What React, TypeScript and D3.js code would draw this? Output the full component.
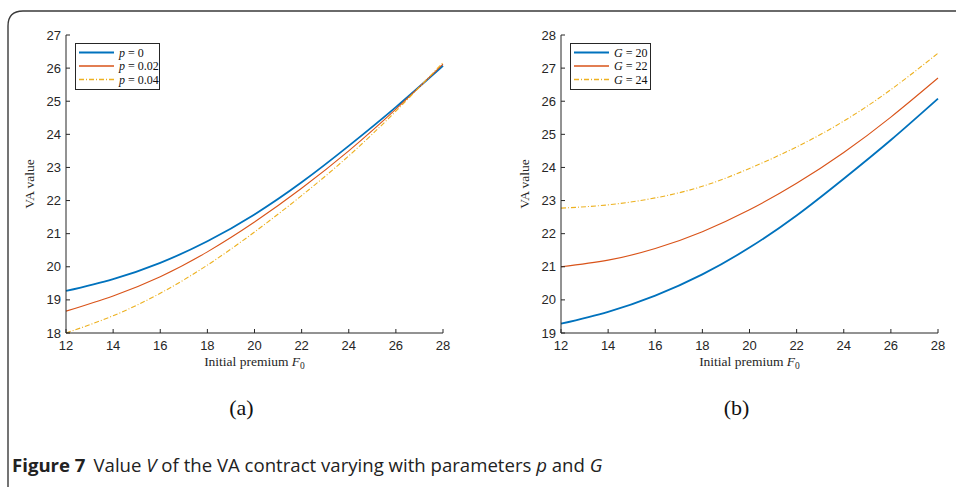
import React from 'react';
import * as d3 from 'd3';

const premiums = [12, 14, 16, 18, 20, 22, 24, 26, 28];

// panel (a): varying p
const pLabels = ['0', '0.02', '0.04'];
const pZero = [19.27, 19.63, 20.12, 20.77, 21.58, 22.55, 23.65, 24.82, 26.07];
const pTwo = [18.66, 19.12, 19.7, 20.45, 21.35, 22.37, 23.5, 24.76, 26.12];
const pFour = [18.0, 18.52, 19.2, 20.05, 21.05, 22.15, 23.35, 24.7, 26.17];

// panel (b): varying G
const gLabels = ['20', '22', '24'];
const gTwenty = [19.28, 19.64, 20.13, 20.77, 21.58, 22.55, 23.66, 24.83, 26.08];
const gTwentyTwo = [21.0, 21.2, 21.55, 22.06, 22.72, 23.52, 24.45, 25.52, 26.7];
const gTwentyFour = [22.77, 22.87, 23.08, 23.43, 23.97, 24.62, 25.4, 26.35, 27.45];

const xTicks = [12, 14, 16, 18, 20, 22, 24, 26, 28];
const yTicksA = [18, 19, 20, 21, 22, 23, 24, 25, 26, 27];
const yTicksB = [19, 20, 21, 22, 23, 24, 25, 26, 27, 28];

const colors = ['#0072BD', '#D95319', '#EDB120'];
const widths = [1.8, 1.1, 1.1];
const dashes = [null, null, '5,2,1,2'];

const axisColor = '#262626';
const serif = '"Liberation Serif", "DejaVu Serif", serif';
const sans = '"Liberation Sans", Arial, sans-serif';

type PanelProps = {
  left: number;
  series: number[][];
  yDomain: [number, number];
  yTicks: number[];
  legendSym: string;
  legendVals: string[];
  legendX: number;
  legendW: number;
  tag: string;
};

function Panel(props: PanelProps) {
  const { left, series, yDomain, yTicks, legendSym, legendVals, legendX, legendW, tag } = props;
  const x = d3.scaleLinear().domain([12, 28]).range([left, left + 377]);
  const y = d3.scaleLinear().domain(yDomain).range([333, 35]);
  const line = d3
    .line<number>()
    .curve(d3.curveNatural)
    .x((d, i) => x(premiums[i]))
    .y(d => y(d));

  const midX = (x(12) + x(28)) / 2;

  return (
    <g>
      {series.map((s, i) => (
        <path
          key={i}
          d={line(s) || ''}
          fill="none"
          stroke={colors[i]}
          strokeWidth={widths[i]}
          strokeDasharray={dashes[i] || undefined}
        />
      ))}

      {/* axes */}
      <line x1={x(12)} x2={x(28)} y1={333} y2={333} stroke={axisColor} strokeWidth={1} />
      <line x1={x(12)} x2={x(12)} y1={35} y2={333} stroke={axisColor} strokeWidth={1} />
      {xTicks.map(t => (
        <g key={'x' + t}>
          <line x1={x(t)} x2={x(t)} y1={333} y2={329} stroke={axisColor} />
          <text x={x(t)} y={350} textAnchor="middle" fontFamily={sans} fontSize={13} fill={axisColor}>
            {t}
          </text>
        </g>
      ))}
      {yTicks.map(t => (
        <g key={'y' + t}>
          <line x1={x(12)} x2={x(12) + 4} y1={y(t)} y2={y(t)} stroke={axisColor} />
          <text x={x(12) - 5} y={y(t) + 4.5} textAnchor="end" fontFamily={sans} fontSize={13} fill={axisColor}>
            {t}
          </text>
        </g>
      ))}

      <text x={midX} y={366} textAnchor="middle" fontFamily={serif} fontSize={13.5} fill={axisColor}>
        Initial premium <tspan fontStyle="italic">F</tspan>
        <tspan fontSize={9.5} dy={3}>0</tspan>
      </text>
      <text
        transform={`translate(${left - 32},${184}) rotate(-90)`}
        textAnchor="middle"
        fontFamily={serif}
        fontSize={13.5}
        fill={axisColor}
      >
        VA value
      </text>

      {/* legend */}
      <rect x={legendX + 0.5} y={43.5} width={legendW} height={46} fill="#fff" stroke={axisColor} strokeWidth={1} />
      {legendVals.map((v, i) => (
        <g key={v}>
          <line
            x1={legendX + 4}
            x2={legendX + 39}
            y1={52.5 + i * 13.5}
            y2={52.5 + i * 13.5}
            stroke={colors[i]}
            strokeWidth={widths[i] + 0.3}
            strokeDasharray={dashes[i] || undefined}
          />
          <text x={legendX + 44} y={56.5 + i * 13.5} fontFamily={serif} fontSize={12} fill="#111">
            <tspan fontStyle="italic">{legendSym}</tspan>
            <tspan dx={3}>=</tspan>
            <tspan dx={3}>{v}</tspan>
          </text>
        </g>
      ))}

      <text x={midX - 13} y={415} textAnchor="middle" fontFamily={serif} fontSize={22} fill="#111">
        {tag}
      </text>
    </g>
  );
}

export default function App() {
  return (
    <svg width={956} height={487} style={{ display: 'block', position: 'absolute', left: 0, top: 0 }}>
      <rect width={956} height={487} fill="#fff" />
      <path d="M8,487 L8,26 Q8,11 23,11 L956,11" fill="none" stroke="#3a3a3a" strokeWidth={1.4} />

      <Panel
        left={66}
        series={[pZero, pTwo, pFour]}
        yDomain={[18, 27]}
        yTicks={yTicksA}
        legendSym="p"
        legendVals={pLabels}
        legendX={75}
        legendW={84}
        tag="(a)"
      />
      <Panel
        left={561}
        series={[gTwenty, gTwentyTwo, gTwentyFour]}
        yDomain={[19, 28]}
        yTicks={yTicksB}
        legendSym="G"
        legendVals={gLabels}
        legendX={570}
        legendW={80}
        tag="(b)"
      />

      <text x={12} y={472} fontFamily='"Open Sans", "Noto Sans", sans-serif' fontSize={18.6} fill="#222">
        <tspan fontWeight="bold">Figure 7</tspan>
        <tspan dx={8}>Value </tspan>
        <tspan fontStyle="italic">V</tspan>
        <tspan> of the VA contract varying with parameters </tspan>
        <tspan fontStyle="italic">p</tspan>
        <tspan> and </tspan>
        <tspan fontStyle="italic">G</tspan>
      </text>
    </svg>
  );
}
